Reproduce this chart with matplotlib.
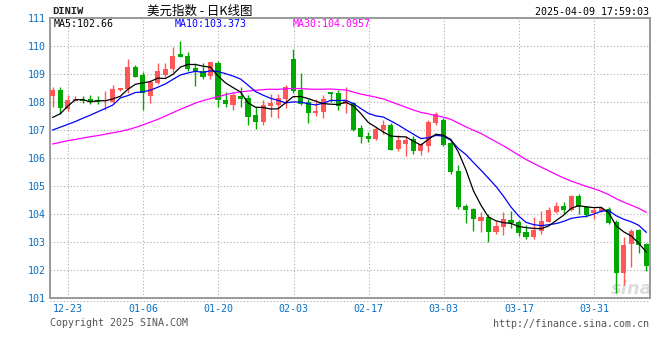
import numpy as np
import pandas as pd
import matplotlib
matplotlib.use('Agg')
import matplotlib.pyplot as plt
from matplotlib.lines import Line2D

# daily candles of DINIW, 2024-12-19 .. 2025-04-09
open_ = [108.22, 108.43, 107.74, 108.05, 108.10, 108.11, 108.08, 108.02, 108.01, 108.43,
         108.45, 109.26, 108.96, 108.23, 108.69, 108.96, 109.17, 109.71, 109.64, 109.20,
         109.12, 108.93, 109.40, 108.07, 107.89, 108.22, 108.13, 107.54, 107.30, 107.86,
         107.89, 108.10, 109.54, 108.43, 108.01, 107.60, 107.65, 108.37, 108.33, 107.93,
         107.98, 107.08, 106.80, 106.68, 107.00, 107.18, 106.32, 106.50, 106.67, 106.25,
         106.44, 107.24, 107.36, 106.55, 105.55, 104.29, 104.18, 103.76, 103.88, 103.37,
         103.52, 103.79, 103.73, 103.37, 103.17, 103.40, 103.73, 104.08, 104.29, 104.14,
         104.65, 104.24, 104.02, 104.12, 104.18, 103.73, 101.90, 102.92, 103.43, 102.93]
high = [108.52, 108.55, 108.24, 108.22, 108.22, 108.26, 108.22, 108.39, 108.60, 108.50,
        109.55, 109.33, 109.07, 108.79, 109.38, 109.38, 109.98, 110.18, 109.77, 109.38,
        109.38, 109.43, 109.48, 108.37, 108.31, 108.52, 108.25, 107.83, 108.07, 108.29,
        108.29, 108.60, 109.90, 109.03, 108.11, 108.10, 108.25, 108.37, 108.43, 108.55,
        108.01, 107.18, 106.92, 107.10, 107.36, 107.25, 106.82, 106.79, 106.79, 106.55,
        107.36, 107.64, 107.43, 106.60, 105.75, 104.36, 104.23, 104.06, 104.00, 103.76,
        104.07, 104.10, 103.80, 103.60, 103.90, 104.10, 104.25, 104.44, 104.44, 104.68,
        104.70, 104.30, 104.26, 104.24, 104.25, 103.79, 103.17, 103.45, 103.46, 102.98]
low = [107.81, 107.57, 107.67, 108.02, 107.98, 107.93, 107.93, 107.71, 107.98, 108.41,
       108.31, 108.88, 107.71, 107.95, 108.65, 108.88, 109.08, 109.60, 109.12, 108.58,
       108.83, 108.82, 107.83, 107.83, 107.71, 107.83, 107.18, 107.05, 107.18, 107.48,
       107.43, 107.79, 108.31, 107.89, 107.25, 107.50, 107.44, 108.00, 107.70, 107.60,
       106.97, 106.55, 106.58, 106.66, 106.85, 106.29, 106.25, 106.07, 106.14, 106.10,
       106.22, 107.17, 106.43, 105.44, 104.17, 103.69, 103.40, 103.37, 103.00, 103.27,
       103.25, 103.50, 103.20, 103.10, 103.10, 103.30, 103.70, 104.02, 103.99, 104.10,
       104.00, 103.89, 103.83, 104.08, 103.64, 101.19, 101.46, 102.12, 102.60, 101.98]
close = [108.43, 107.79, 108.07, 108.11, 108.03, 108.02, 108.00, 108.06, 108.45, 108.49,
         109.26, 108.90, 108.31, 108.70, 109.10, 109.18, 109.64, 109.62, 109.17, 109.08,
         108.90, 109.43, 108.07, 107.93, 108.25, 108.10, 107.48, 107.30, 107.89, 107.98,
         108.14, 108.55, 108.39, 107.93, 107.60, 107.68, 108.11, 108.29, 107.86, 108.05,
         107.00, 106.76, 106.68, 107.02, 107.18, 106.29, 106.64, 106.64, 106.25, 106.49,
         107.30, 107.57, 106.46, 105.49, 104.24, 104.14, 103.82, 103.88, 103.37, 103.57,
         103.81, 103.69, 103.33, 103.17, 103.43, 103.76, 104.16, 104.29, 104.15, 104.65,
         104.24, 103.96, 104.14, 104.20, 103.69, 101.90, 102.89, 103.40, 102.89, 102.15]

# moving-average values before a full window exists
ma5_head = [107.45, 107.58, 107.85, 108.08]
ma10_head = [107.00, 107.10, 107.20, 107.30, 107.42, 107.53, 107.65, 107.77, 107.89]
ma30_head = [106.50, 106.56, 106.62, 106.66, 106.71, 106.76, 106.80, 106.85, 106.90, 106.95,
             107.01, 107.09, 107.18, 107.28, 107.38, 107.50, 107.62, 107.74, 107.85, 107.96,
             108.05, 108.12, 108.19, 108.26, 108.32, 108.36, 108.39, 108.42, 108.44]

ma_labels = ['MA5:102.66', 'MA10:103.373', 'MA30:104.0957']
tick_labels = ['12-23', '01-06', '01-20', '02-03', '02-17', '03-03', '03-17', '03-31']
y_ticks = list(range(101, 112))

RED = '#ff5757'
GREEN = '#00a800'
BLUE_TXT = '#0a6fc2'
GRID = '#aaaaaa'
W, H = 660, 360

plt.rcParams['font.family'] = ['DejaVu Sans Mono', 'Noto Sans CJK SC']


def moving_average(values, window, head):
    ma = pd.Series(values).rolling(window).mean().to_numpy()
    ma[:len(head)] = head
    return ma


dates = pd.bdate_range('2024-12-19', '2025-04-09')
o = np.array(open_)
h = np.array(high)
l = np.array(low)
c = np.array(close)
x = np.arange(len(c))

fig = plt.figure(figsize=(W / 100, H / 100), dpi=100)
ax = fig.add_axes([50 / W, 1 - 298 / H, 600 / W, 280 / H])

# sina watermark, behind the candles
ax.text(632 / W, 1 - 289 / H, 'sina', transform=fig.transFigure, family='DejaVu Sans',
        style='italic', weight='bold', size=13, color='#dcdcdc', ha='center', va='center',
        zorder=1)

up = c >= o
colors = np.where(up, RED, GREEN)
body_low = np.minimum(o, c)
body_h = np.maximum(np.abs(c - o), 0.03)
ax.vlines(x, l, h, colors=colors, linewidth=1.0, zorder=2)
ax.bar(x, body_h, bottom=body_low, width=0.68, color=colors, linewidth=0, zorder=3)

ax.plot(x, moving_average(c, 30, ma30_head), color='#ff00ff', lw=0.9, zorder=4)
ax.plot(x, moving_average(c, 10, ma10_head), color='#0000ff', lw=0.9, zorder=5)
ax.plot(x, moving_average(c, 5, ma5_head), color='black', lw=0.9, zorder=6)

ax.set_xlim(-0.36, 79.5)
ax.set_ylim(101, 111)

labels_md = [d.strftime('%m-%d') for d in dates]
tick_pos = [labels_md.index(t) + 0.05 for t in tick_labels]
ax.set_xticks(tick_pos)
ax.set_xticklabels(tick_labels)
ax.set_yticks(y_ticks)
ax.set_yticklabels([str(v) for v in y_ticks])
ax.tick_params(length=0, labelsize=7.2, labelcolor=BLUE_TXT)
ax.tick_params(axis='x', pad=4.5)
ax.tick_params(axis='y', pad=3)
ax.grid(True, color=GRID, linestyle=(0, (1, 2)), lw=0.8)
ax.set_axisbelow(True)
for s in ax.spines.values():
    s.set_color('#999999')
    s.set_linewidth(1.4)

# dotted rule under the plot
fig.add_artist(Line2D([50 / W, 650 / W], [1 - 300.5 / H] * 2, color=GRID,
                      linestyle=(0, (1, 2)), lw=0.8))

# header
fig.text(52 / W, 1 - 11 / H, 'DINIW', family='Liberation Mono', weight='bold',
         size=7.6, color='#222222', va='center')
fig.text(200 / W, 1 - 11 / H, '美元指数 - 日K线图', family=['Noto Sans CJK SC', 'DejaVu Sans'],
         size=9, ha='center', va='center', color='black')
fig.text(649 / W, 1 - 12 / H, '2025-04-09 17:59:03', size=7.2, ha='right', va='center')

# MA legend
for lbl, px, col in zip(ma_labels, [54, 175, 293], ['black', '#0000ff', '#ff00ff']):
    fig.text(px / W, 1 - 24 / H, lbl, size=7.2, color=col, va='center')

# footer
fig.text(50 / W, 1 - 323 / H, 'Copyright 2025 SINA.COM', size=7.2, color='#555555', va='center')
fig.text(649 / W, 1 - 324 / H, 'http://finance.sina.com.cn', size=7.2, color='#555555',
         ha='right', va='center')

fig.savefig('out.png', dpi=100)
